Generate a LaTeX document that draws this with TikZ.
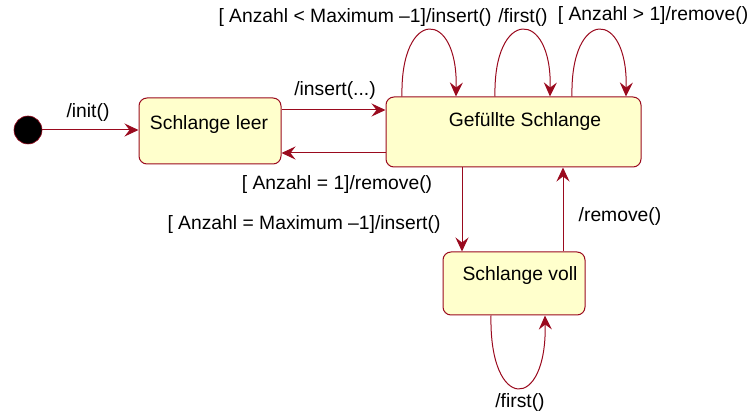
\documentclass[tikz,border=0pt]{standalone}
\usepackage{fontspec}
\setmainfont{Liberation Sans}
\usetikzlibrary{arrows.meta}
\definecolor{umlred}{HTML}{9A0A1E}
\definecolor{umlfill}{HTML}{FFFFCC}
\begin{document}
\begin{tikzpicture}[x=1pt,y=-1pt,
  font=\fontsize{19.3}{21}\selectfont,
  statebox/.style={draw=umlred, fill=umlfill, rounded corners=8pt, line width=1pt, inner sep=0pt},
  trans/.style={draw=umlred, line width=1pt, -{Stealth[length=14pt,width=13pt,inset=5pt]}},
  lbl/.style={inner sep=0pt, anchor=base}
]
\useasboundingbox (0,0) rectangle (756,414);
% states
\node[circle, fill=black, draw=umlred, line width=0.6pt, minimum size=28pt, inner sep=0pt] (init) at (28,130) {};
\node[statebox, minimum width=142pt, minimum height=66pt] (leer) at (210,131) {};
\node[statebox, minimum width=255pt, minimum height=70pt] (voll0) at (513.5,132) {};
\node[statebox, minimum width=142pt, minimum height=63pt] (voll) at (514,283.5) {};
\node[lbl] (tleer) at (209,130) {Schlange leer};
\node[lbl] (tgef) at (525,127) {Gefüllte Schlange};
\node[lbl] (tvoll) at (520,281) {Schlange voll};
% transitions
\draw[trans] (init.east) -- (init.east -| leer.west);
\node[lbl] (linit) at (88,118) {/init()};
\draw[trans] (leer.east |- 0,110) -- (voll0.west |- 0,110);
\node[lbl] (lins) at (335,96) {/insert(...)};
\draw[trans] (voll0.west |- 0,153) -- (leer.east |- 0,153);
\node[lbl] (lrem) at (337,190) {[ Anzahl = 1]/remove()};
\draw[trans] (voll0.south -| 462,0) -- (voll.north -| 462,0);
\node[lbl] (lmax) at (304,230) {[ Anzahl = Maximum \textendash1]/insert()};
\draw[trans] (voll.north -| 563,0) -- (voll0.south -| 563,0);
\node[lbl] (lrem2) at (620,222) {/remove()};
% self loops on Gefuellte Schlange
\draw[trans] (voll0.north -| 402,0) .. controls (400,8) and (458,8) .. (voll0.north -| 456,0);
\node[lbl] (lloop1) at (355,23) {[ Anzahl < Maximum \textendash1]/insert()};
\draw[trans] (voll0.north -| 495,0) .. controls (493,8) and (552,8) .. (voll0.north -| 550,0);
\node[lbl] (lloop2) at (523,23) {/first()};
\draw[trans] (voll0.north -| 572,0) .. controls (570,8) and (628,8) .. (voll0.north -| 626,0);
\node[lbl] (lloop3) at (653,21) {[ Anzahl > 1]/remove()};
% self loop on Schlange voll
\draw[trans] (voll.south -| 491,0) .. controls (489,412) and (547,412) .. (voll.south -| 545,0);
\node[lbl] (lfirst) at (520,408) {/first()};
\end{tikzpicture}
\end{document}
